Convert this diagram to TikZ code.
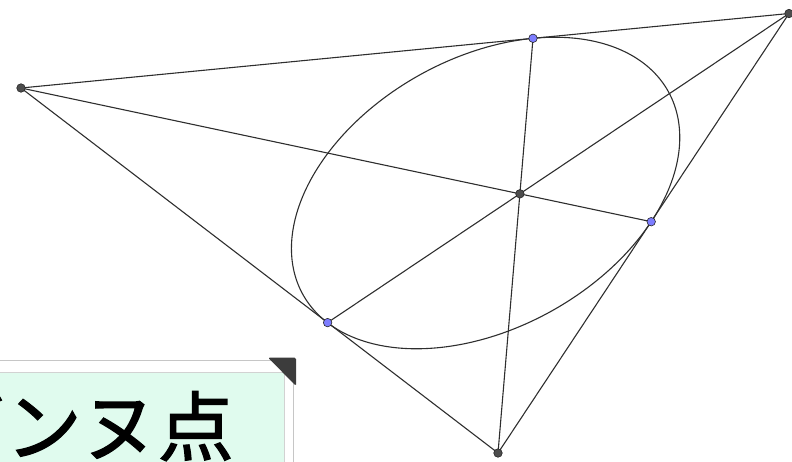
\documentclass[tikz,border=0pt]{standalone}
\usepackage{fontspec}
\newfontfamily\cjk[FakeBold=1.6]{Noto Sans CJK JP}
\definecolor{ln}{HTML}{2E2E2E}
\definecolor{vfill}{HTML}{4D4D4D}
\definecolor{tfill}{RGB}{125,125,255}
\definecolor{boxfill}{RGB}{224,251,238}
\definecolor{corner}{HTML}{3C3C3C}
\tikzset{
  edge/.style={draw=ln, line width=1.1pt},
  vtx/.style={circle, fill=vfill, draw=black!85, line width=0.6pt, inner sep=0pt, minimum size=8.5pt},
  tpt/.style={circle, fill=tfill, draw=black!85, line width=0.6pt, inner sep=0pt, minimum size=8.5pt},
}
\begin{document}
\begin{tikzpicture}[x=1pt,y=-1pt]
\useasboundingbox (0,0) rectangle (792,461);
\clip (0,0) rectangle (792,461);
% triangle vertices and points
\coordinate (A) at (21,88);
\coordinate (B) at (789,13.5);
\coordinate (C) at (498,453);
\coordinate (P) at (519.9,193.8);
\coordinate (Tab) at (533,38.3);
\coordinate (Tbc) at (651.2,221.7);
\coordinate (Tca) at (327.6,322.6);
% triangle
\draw[edge] (A) -- (B) -- (C) -- cycle;
% cevians
\draw[edge] (A) -- (Tbc);
\draw[edge] (B) -- (Tca);
\draw[edge] (C) -- (Tab);
% inellipse
\draw[edge] plot[domain=0:360, samples=160, smooth cycle, variable=\t]
  ({485.6+47.4*cos(\t)+188.3*sin(\t)}, {193.0-154.7*cos(\t)-18.3*sin(\t)});
% points
\node[vtx] (Adot) at (A) {};
\node[vtx] (Bdot) at (B) {};
\node[vtx] (Cdot) at (C) {};
\node[vtx] (Pdot) at (P) {};
\node[tpt] (TabDot) at (Tab) {};
\node[tpt] (TbcDot) at (Tbc) {};
\node[tpt] (TcaDot) at (Tca) {};
% label box
\draw[gray!45, line width=0.9pt] (-5,360) -- (293,360) -- (293,470);
\fill[boxfill] (-5,372) rectangle (284,470);
\draw[gray!35, line width=0.8pt] (-5,372) -- (284,372) -- (284,470);
\fill[corner, rounded corners=1.5pt] (268,357.5) -- (296,357.5) -- (296,386) -- cycle;
\node[anchor=base east, inner sep=0pt, font=\cjk\fontsize{76}{76}\selectfont] (label) at (234,455) {ジェルゴンヌ点};
\end{tikzpicture}
\end{document}
